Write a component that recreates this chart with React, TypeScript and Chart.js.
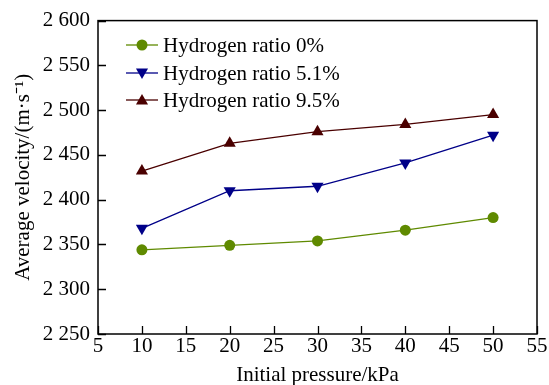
import React, { useEffect, useRef } from "react";
import { Chart, registerables } from "chart.js";

Chart.register(...registerables);

const pressures = [10, 20, 30, 40, 50];
const ratio0 = [2344, 2349, 2354, 2366, 2380];
const ratio51 = [2368, 2410, 2415, 2441, 2472];
const ratio95 = [2432, 2463, 2476, 2484, 2495];

const seriesLabels = ["Hydrogen ratio 0%", "Hydrogen ratio 5.1%", "Hydrogen ratio 9.5%"];
const seriesColors = ["#5f8a00", "#000088", "#4a0000"];

const xTitle = "Initial pressure/kPa";
const yTitle = "Average velocity/(m\u00b7s\u207b\u00b9)";

const FONT = "'Liberation Serif', 'Times New Roman', serif";
const FS = 21;

function fmt(v: number) {
  const s = String(Math.round(v));
  if (s.length > 3) return s.slice(0, s.length - 3) + " " + s.slice(s.length - 3);
  return s;
}

function drawMarker(ctx: CanvasRenderingContext2D, kind: string, x: number, y: number, r: number, color: string) {
  ctx.save();
  ctx.fillStyle = color;
  ctx.beginPath();
  if (kind === "circle") {
    ctx.arc(x, y, r, 0, Math.PI * 2);
  } else {
    const dir = kind === "down" ? -1 : 1;
    const s = Math.sin(Math.PI / 3) * r;
    ctx.moveTo(x, y - dir * r);
    ctx.lineTo(x + s, y + dir * r * 0.5);
    ctx.lineTo(x - s, y + dir * r * 0.5);
    ctx.closePath();
  }
  ctx.fill();
  ctx.restore();
}

const markerKinds = ["circle", "down", "up"];

const framePlugin = {
  id: "frameTicksLegend",
  afterDraw(chart: any) {
    const ctx = chart.ctx as CanvasRenderingContext2D;
    const a = chart.chartArea;
    const xs = chart.scales.x;
    const ys = chart.scales.y;
    ctx.save();
    ctx.strokeStyle = "#000";
    ctx.lineWidth = 1.5;
    ctx.strokeRect(a.left, a.top, a.right - a.left, a.bottom - a.top);
    ctx.lineWidth = 1.3;
    ctx.beginPath();
    xs.ticks.forEach((t: any) => {
      const px = Math.round(xs.getPixelForValue(t.value)) + 0.5;
      ctx.moveTo(px, a.bottom);
      ctx.lineTo(px, a.bottom - 8);
    });
    ys.ticks.forEach((t: any) => {
      const py = Math.round(ys.getPixelForValue(t.value)) + 0.5;
      ctx.moveTo(a.left, py);
      ctx.lineTo(a.left + 8, py);
    });
    ctx.stroke();

    // legend
    const rows = [45, 73, 100];
    ctx.font = `${FS}px ${FONT}`;
    ctx.textBaseline = "middle";
    ctx.textAlign = "left";
    chart.data.datasets.forEach((ds: any, i: number) => {
      const y = rows[i];
      ctx.strokeStyle = seriesColors[i];
      ctx.lineWidth = 1.3;
      ctx.beginPath();
      ctx.moveTo(126, y);
      ctx.lineTo(158, y);
      ctx.stroke();
      drawMarker(ctx, markerKinds[i], 142, y + (i === 1 ? -1 : i === 2 ? 1 : 0), i === 0 ? 5.5 : 7, seriesColors[i]);
      ctx.fillStyle = "#000";
      ctx.fillText(ds.label, 163, y + 1);
    });
    ctx.restore();
  },
};

export default function App() {
  const ref = useRef<HTMLCanvasElement>(null);
  useEffect(() => {
    if (!ref.current) return;
    const mk = (vals: number[]) => pressures.map((p, i) => ({ x: p, y: vals[i] }));
    const chart = new Chart(ref.current, {
      type: "line",
      data: {
        datasets: [
          {
            label: seriesLabels[0],
            data: mk(ratio0),
            borderColor: seriesColors[0],
            backgroundColor: seriesColors[0],
            borderWidth: 1.3,
            pointStyle: "circle",
            pointRadius: 5.5,
            pointBorderWidth: 0,
          },
          {
            label: seriesLabels[1],
            data: mk(ratio51),
            borderColor: seriesColors[1],
            backgroundColor: seriesColors[1],
            borderWidth: 1.3,
            pointStyle: "triangle",
            pointRotation: 180,
            pointRadius: 7,
            pointBorderWidth: 0,
          },
          {
            label: seriesLabels[2],
            data: mk(ratio95),
            borderColor: seriesColors[2],
            backgroundColor: seriesColors[2],
            borderWidth: 1.3,
            pointStyle: "triangle",
            pointRadius: 7,
            pointBorderWidth: 0,
          },
        ],
      },
      options: {
        animation: false,
        responsive: false,
        maintainAspectRatio: false,
        layout: { padding: { top: 17, right: 12, left: 0, bottom: 0 } },
        plugins: { legend: { display: false }, tooltip: { enabled: false } },
        scales: {
          x: {
            type: "linear",
            min: 5,
            max: 55,
            ticks: { stepSize: 5, padding: 0, color: "#000", font: { family: FONT, size: FS }, maxRotation: 0, autoSkip: false },
            grid: { display: false, drawTicks: false },
            border: { display: false },
            title: { display: true, text: xTitle, color: "#000", font: { family: FONT, size: FS }, padding: { top: 0, bottom: -3 } },
            afterFit(s: any) {
              s.height = 51;
            },
          },
          y: {
            type: "linear",
            min: 2250,
            max: 2600,
            ticks: { stepSize: 50, padding: 8, color: "#000", font: { family: FONT, size: FS }, callback: (v: any) => fmt(Number(v)) },
            grid: { display: false, drawTicks: false },
            border: { display: false },
            title: { display: true, text: yTitle, color: "#000", font: { family: FONT, size: FS }, padding: { top: 11, bottom: 0 } },
            afterFit(s: any) {
              s.width = 98;
            },
          },
        },
      },
      plugins: [framePlugin],
    });
    return () => chart.destroy();
  }, []);
  return (
    <div style={{ position: "fixed", left: 0, top: 0, width: 549, height: 385, background: "#fff" }}>
      <canvas ref={ref} width={549} height={385} style={{ width: 549, height: 385 }} />
    </div>
  );
}
